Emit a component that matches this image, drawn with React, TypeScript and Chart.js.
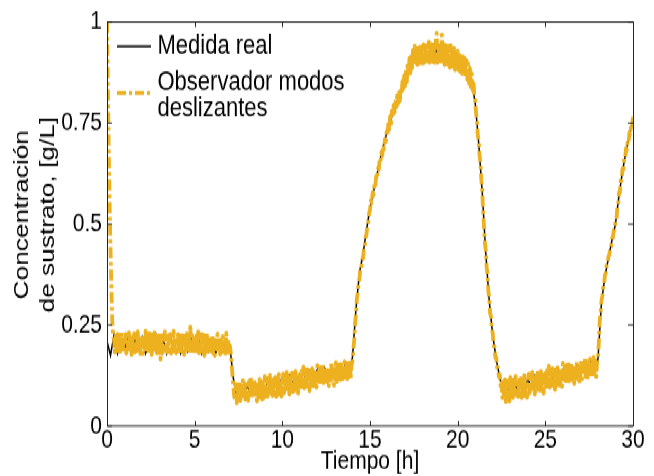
import { useEffect, useRef } from 'react';
import { Chart, registerables } from 'chart.js';

Chart.register(...registerables);

// ---------- data ----------
const seriesNames = ['Medida real', 'Observador modos deslizantes'];
const legendLines = [['Medida real'], ['Observador modos', 'deslizantes']];

// sampling step of each series, hours
const stepReal = 0.2;
const stepObs = 0.05;

// Medida real: one value every 0.2 h, from 0 h to 30 h
const medidaReal = [
  0.21, 0.175, 0.225, 0.18, 0.215,
  0.19, 0.22, 0.18, 0.215, 0.195,
  0.22, 0.18, 0.21, 0.19, 0.225,
  0.185, 0.215, 0.18, 0.22, 0.19,
  0.21, 0.18, 0.22, 0.185, 0.215,
  0.19, 0.22, 0.18, 0.21, 0.185,
  0.215, 0.18, 0.205, 0.185, 0.21,
  0.2, 0.12, 0.07, 0.1, 0.075,
  0.1, 0.08, 0.105, 0.085, 0.11,
  0.09, 0.115, 0.095, 0.115, 0.1,
  0.12, 0.1, 0.125, 0.105, 0.125,
  0.11, 0.135, 0.11, 0.135, 0.115,
  0.14, 0.12, 0.145, 0.125, 0.14,
  0.13, 0.15, 0.125, 0.155, 0.135,
  0.17, 0.29, 0.38, 0.425, 0.485,
  0.54, 0.58, 0.623, 0.665, 0.7,
  0.733, 0.76, 0.789, 0.81, 0.833,
  0.86, 0.88, 0.895, 0.905, 0.912,
  0.918, 0.922, 0.925, 0.927, 0.928,
  0.925, 0.922, 0.918, 0.913, 0.905,
  0.9, 0.895, 0.886, 0.875, 0.855,
  0.8, 0.7, 0.58, 0.43, 0.31,
  0.225, 0.165, 0.12, 0.08, 0.105,
  0.085, 0.11, 0.09, 0.115, 0.095,
  0.115, 0.1, 0.125, 0.105, 0.125,
  0.11, 0.135, 0.115, 0.14, 0.12,
  0.14, 0.125, 0.15, 0.13, 0.15,
  0.135, 0.155, 0.14, 0.16, 0.145,
  0.165, 0.305, 0.37, 0.416, 0.46,
  0.5, 0.57, 0.63, 0.68, 0.72,
  0.76,
];

// Observador modos deslizantes: one value every 0.05 h, from 0 h to 30 h (one row per hour)
const observador = [
  1.0, 0.84, 0.68, 0.55, 0.44, 0.34, 0.26, 0.22, 0.217, 0.183, 0.223, 0.19, 0.227, 0.18, 0.215, 0.185, 0.235, 0.193, 0.221, 0.181,
  0.187, 0.227, 0.18, 0.217, 0.19, 0.231, 0.185, 0.223, 0.177, 0.219, 0.195, 0.229, 0.183, 0.22, 0.187, 0.233, 0.191, 0.225, 0.179, 0.215,
  0.217, 0.179, 0.225, 0.191, 0.235, 0.183, 0.221, 0.187, 0.229, 0.193, 0.227, 0.177, 0.219, 0.185, 0.231, 0.189, 0.223, 0.181, 0.217, 0.185,
  0.23, 0.165, 0.22, 0.18, 0.225, 0.195, 0.233, 0.187, 0.217, 0.183, 0.223, 0.19, 0.227, 0.18, 0.215, 0.185, 0.235, 0.193, 0.221, 0.181,
  0.187, 0.227, 0.18, 0.217, 0.19, 0.231, 0.185, 0.223, 0.177, 0.219, 0.195, 0.229, 0.183, 0.22, 0.187, 0.245, 0.191, 0.225, 0.179, 0.215,
  0.215, 0.177, 0.223, 0.189, 0.233, 0.181, 0.219, 0.185, 0.227, 0.191, 0.225, 0.175, 0.217, 0.183, 0.229, 0.187, 0.221, 0.179, 0.215, 0.183,
  0.225, 0.18, 0.215, 0.175, 0.22, 0.19, 0.228, 0.182, 0.212, 0.178, 0.218, 0.185, 0.222, 0.175, 0.21, 0.18, 0.23, 0.188, 0.216, 0.176,
  0.2, 0.185, 0.16, 0.13, 0.1, 0.075, 0.065, 0.103, 0.057, 0.099, 0.075, 0.109, 0.063, 0.1, 0.067, 0.113, 0.071, 0.105, 0.059, 0.095,
  0.102, 0.064, 0.11, 0.076, 0.12, 0.068, 0.106, 0.072, 0.114, 0.078, 0.112, 0.062, 0.104, 0.07, 0.116, 0.074, 0.108, 0.066, 0.102, 0.07,
  0.123, 0.078, 0.113, 0.073, 0.118, 0.088, 0.126, 0.08, 0.11, 0.076, 0.116, 0.083, 0.12, 0.073, 0.108, 0.078, 0.128, 0.086, 0.114, 0.074,
  0.089, 0.129, 0.082, 0.119, 0.092, 0.133, 0.087, 0.125, 0.079, 0.121, 0.097, 0.131, 0.085, 0.122, 0.089, 0.135, 0.093, 0.127, 0.081, 0.117,
  0.128, 0.09, 0.136, 0.102, 0.146, 0.094, 0.132, 0.098, 0.14, 0.104, 0.138, 0.088, 0.13, 0.096, 0.142, 0.1, 0.134, 0.092, 0.128, 0.096,
  0.15, 0.105, 0.14, 0.1, 0.145, 0.115, 0.153, 0.107, 0.137, 0.103, 0.143, 0.11, 0.147, 0.1, 0.135, 0.105, 0.155, 0.113, 0.141, 0.101,
  0.117, 0.157, 0.11, 0.147, 0.12, 0.161, 0.115, 0.153, 0.107, 0.149, 0.125, 0.159, 0.113, 0.15, 0.117, 0.163, 0.121, 0.155, 0.118, 0.152,
  0.16, 0.19, 0.212, 0.255, 0.276, 0.315, 0.33, 0.356, 0.365, 0.39, 0.39, 0.412, 0.415, 0.437, 0.445, 0.467, 0.475, 0.497, 0.505, 0.527,
  0.535, 0.558, 0.553, 0.578, 0.572, 0.598, 0.592, 0.618, 0.612, 0.638, 0.635, 0.66, 0.655, 0.678, 0.67, 0.694, 0.686, 0.71, 0.704, 0.728,
  0.72, 0.752, 0.735, 0.766, 0.749, 0.78, 0.763, 0.794, 0.777, 0.808, 0.79, 0.818, 0.798, 0.825, 0.805, 0.837, 0.821, 0.853, 0.836, 0.867,
  0.842, 0.882, 0.852, 0.9, 0.864, 0.91, 0.874, 0.92, 0.886, 0.93, 0.895, 0.94, 0.9, 0.935, 0.895, 0.942, 0.898, 0.938, 0.9, 0.945,
  0.898, 0.944, 0.9, 0.948, 0.895, 0.942, 0.903, 0.95, 0.9, 0.946, 0.898, 0.952, 0.902, 0.948, 0.9, 0.955, 0.972, 0.9, 0.95, 0.905,
  0.95, 0.898, 0.968, 0.9, 0.945, 0.895, 0.948, 0.892, 0.944, 0.895, 0.94, 0.888, 0.942, 0.89, 0.936, 0.884, 0.935, 0.882, 0.93, 0.878,
  0.928, 0.882, 0.922, 0.877, 0.918, 0.872, 0.914, 0.868, 0.91, 0.865, 0.905, 0.858, 0.897, 0.848, 0.885, 0.84, 0.872, 0.832, 0.855, 0.818,
  0.806, 0.774, 0.756, 0.719, 0.706, 0.669, 0.651, 0.609, 0.586, 0.529, 0.496, 0.454, 0.436, 0.394, 0.376, 0.334, 0.316, 0.279, 0.271, 0.239,
  0.23, 0.2, 0.195, 0.17, 0.17, 0.145, 0.145, 0.123, 0.127, 0.1, 0.112, 0.07, 0.118, 0.064, 0.115, 0.06, 0.117, 0.066, 0.112, 0.062,
  0.12, 0.075, 0.11, 0.07, 0.115, 0.085, 0.123, 0.077, 0.107, 0.073, 0.113, 0.08, 0.117, 0.07, 0.105, 0.075, 0.125, 0.083, 0.111, 0.071,
  0.089, 0.129, 0.082, 0.119, 0.092, 0.133, 0.087, 0.125, 0.079, 0.121, 0.097, 0.131, 0.085, 0.122, 0.089, 0.135, 0.093, 0.127, 0.081, 0.117,
  0.13, 0.092, 0.138, 0.104, 0.148, 0.096, 0.134, 0.1, 0.142, 0.106, 0.14, 0.09, 0.132, 0.098, 0.144, 0.102, 0.136, 0.094, 0.13, 0.098,
  0.155, 0.11, 0.145, 0.105, 0.15, 0.12, 0.158, 0.112, 0.142, 0.108, 0.148, 0.115, 0.152, 0.105, 0.14, 0.11, 0.16, 0.118, 0.146, 0.106,
  0.124, 0.164, 0.117, 0.154, 0.127, 0.168, 0.122, 0.16, 0.114, 0.156, 0.132, 0.166, 0.12, 0.157, 0.124, 0.17, 0.128, 0.162, 0.122, 0.158,
  0.165, 0.206, 0.259, 0.281, 0.309, 0.321, 0.344, 0.351, 0.374, 0.378, 0.398, 0.401, 0.42, 0.423, 0.442, 0.445, 0.464, 0.466, 0.484, 0.486,
  0.507, 0.508, 0.537, 0.543, 0.577, 0.578, 0.607, 0.608, 0.637, 0.636, 0.662, 0.661, 0.687, 0.683, 0.707, 0.703, 0.727, 0.723, 0.747, 0.743,
  0.765,
];

const xTicks = [0, 5, 10, 15, 20, 25, 30];
const xTickLabels = ['0', '5', '10', '15', '20', '25', '30'];
const yTicks = [0, 0.25, 0.5, 0.75, 1];
const yTickLabels = ['0', '0.25', '0.5', '0.75', '1'];
const xTitle = 'Tiempo [h]';
const yTitle = ['Concentración', 'de sustrato, [g/L]'];

// ---------- styling ----------
const W = 654;
const SY = 1.25; // the reference figure is stretched vertically
const H = 381;
const FONT = '"Liberation Sans", Arial, Helvetica, sans-serif';
const ORANGE = '#EDB120';
const AXIS = '#262626';

const framePlugin = {
  id: 'matlabFrame',
  afterDraw(chart: any) {
    const { ctx, chartArea: a, scales } = chart;
    const x = scales.x;
    const y = scales.y;
    ctx.save();
    // box
    ctx.strokeStyle = AXIS;
    ctx.lineWidth = 1;
    ctx.setLineDash([]);
    ctx.beginPath();
    ctx.rect(a.left + 0.5, a.top, a.right - a.left, a.bottom - a.top);
    ctx.stroke();
    // inward ticks on all four sides
    ctx.beginPath();
    xTicks.forEach((v) => {
      const px = Math.round(x.getPixelForValue(v)) + 0.5;
      ctx.moveTo(px, a.bottom);
      ctx.lineTo(px, a.bottom - 4);
      ctx.moveTo(px, a.top);
      ctx.lineTo(px, a.top + 4);
    });
    yTicks.forEach((v) => {
      const py = y.getPixelForValue(v);
      ctx.moveTo(a.left, py);
      ctx.lineTo(a.left + 5, py);
      ctx.moveTo(a.right, py);
      ctx.lineTo(a.right - 5, py);
    });
    ctx.stroke();

    // y-axis title (two lines, rotated)
    ctx.fillStyle = '#000';
    ctx.font = `21px ${FONT}`;
    ctx.textAlign = 'center';
    ctx.textBaseline = 'middle';
    const yMid = (a.top + a.bottom) / 2 - 7.5;
    ctx.save();
    ctx.translate(22, yMid);
    ctx.rotate(-Math.PI / 2);
    ctx.fillText(yTitle[0], 0, 0);
    ctx.fillText(yTitle[1], 0, 26);
    ctx.restore();

    // legend
    const lx0 = a.left + 10;
    const lx1 = a.left + 44;
    const tx = a.left + 50.5;
    ctx.font = `22px ${FONT}`;
    ctx.textBaseline = 'middle';
    ctx.textAlign = 'left';
    // entry 1
    ctx.strokeStyle = '#000';
    ctx.lineWidth = 1.5;
    ctx.beginPath();
    ctx.moveTo(lx0, 37);
    ctx.lineTo(lx1, 37);
    ctx.stroke();
    ctx.fillText(legendLines[0][0], tx, 37.2);
    // entry 2
    ctx.strokeStyle = ORANGE;
    ctx.lineWidth = 3.2;
    ctx.setLineDash([9, 3, 3, 3]);
    ctx.beginPath();
    ctx.moveTo(lx0, 74.4);
    ctx.lineTo(lx1 + 1, 74.4);
    ctx.stroke();
    ctx.setLineDash([]);
    ctx.fillText(legendLines[1][0], tx, 65.6);
    ctx.fillText(legendLines[1][1], tx, 87);
    ctx.restore();
  },
};

export default function App() {
  const canvasRef = useRef<HTMLCanvasElement | null>(null);

  useEffect(() => {
    const canvas = canvasRef.current;
    if (!canvas) return;
    const chart = new Chart(canvas, {
      type: 'line',
      data: {
        datasets: [
          {
            label: seriesNames[0],
            data: medidaReal.map((v, i) => ({ x: i * stepReal, y: v })),
            borderColor: '#000000',
            borderWidth: 1.5,
            pointRadius: 0,
            tension: 0,
            order: 1,
          },
          {
            label: seriesNames[1],
            data: observador.map((v, i) => ({ x: i * stepObs, y: v })),
            borderColor: ORANGE,
            borderWidth: 3.8,
            borderDash: [9, 3, 3, 3],
            borderJoinStyle: 'round',
            pointRadius: 0,
            tension: 0,
            order: 0,
          },
        ],
      },
      options: {
        animation: false,
        responsive: false,
        maintainAspectRatio: false,
        events: [],
        layout: { padding: { top: 16, right: 21, left: 0, bottom: 0 } },
        plugins: {
          legend: { display: false },
          tooltip: { enabled: false },
        },
        scales: {
          x: {
            type: 'linear',
            min: 0,
            max: 30,
            grid: { display: false, drawTicks: false },
            border: { display: false },
            afterBuildTicks: (s: any) => {
              s.ticks = xTicks.map((v) => ({ value: v }));
            },
            ticks: {
              color: '#000',
              font: { family: FONT, size: 21 },
              padding: -1,
              maxRotation: 0,
              autoSkip: false,
              callback: (_v: any, i: number) => xTickLabels[i],
            },
            title: {
              display: true,
              text: xTitle,
              color: '#000',
              font: { family: FONT, size: 21, lineHeight: 1.1 },
              padding: { top: 0, bottom: 0 },
            },
            afterFit: (s: any) => {
              s.height = H - 340.8;
            },
          },
          y: {
            type: 'linear',
            min: 0,
            max: 1,
            grid: { display: false, drawTicks: false },
            border: { display: false },
            afterBuildTicks: (s: any) => {
              s.ticks = yTicks.map((v) => ({ value: v }));
            },
            ticks: {
              color: '#000',
              font: { family: FONT, size: 21 },
              padding: 5,
              autoSkip: false,
              callback: (_v: any, i: number) => yTickLabels[i],
            },
            title: { display: false },
            afterFit: (s: any) => {
              s.width = 107;
            },
          },
        },
      },
      plugins: [framePlugin],
    });
    return () => chart.destroy();
  }, []);

  return (
    <div
      style={{
        position: 'fixed',
        left: 0,
        top: 0,
        width: W,
        height: H,
        background: '#fff',
        transform: `scaleY(${SY})`,
        transformOrigin: '0 0',
      }}
    >
      <canvas ref={canvasRef} width={W} height={H} style={{ display: 'block', width: W, height: H }} />
    </div>
  );
}
